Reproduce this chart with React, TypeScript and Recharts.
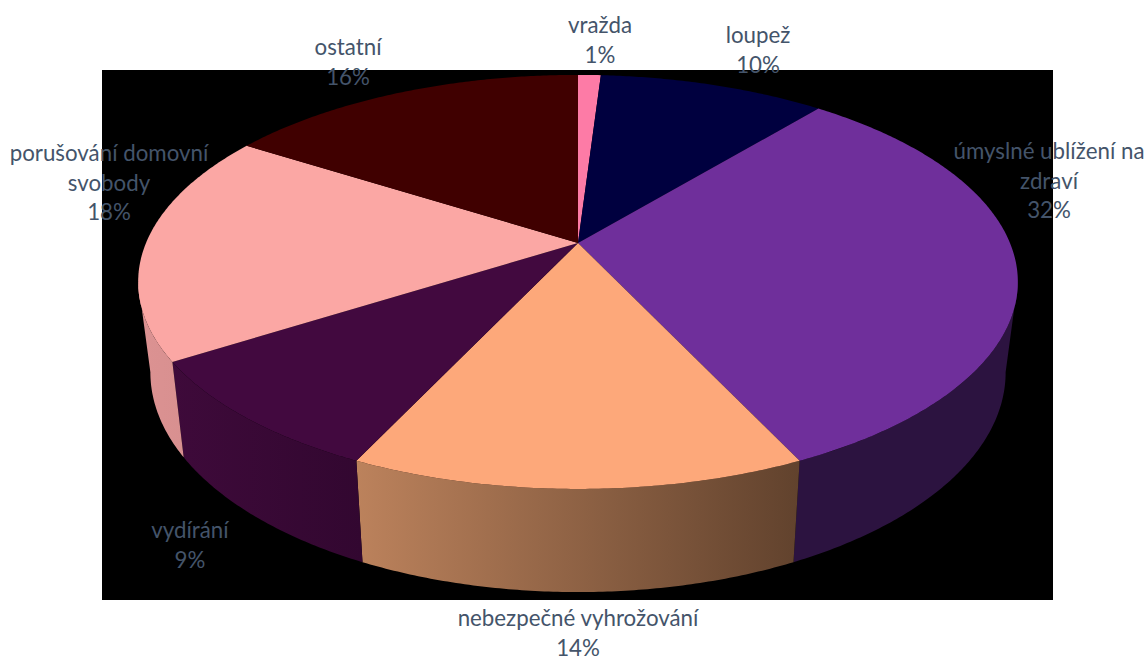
import React from "react";
import { PieChart, Pie } from "recharts";

const CATEGORIES = ["vražda", "loupež", "úmyslné ublížení na zdraví", "nebezpečné vyhrožování", "vydírání", "porušování domovní svobody", "ostatní"];
const VALUES = [1, 10, 32, 14, 9, 18, 16];
const COLORS = ["#FD7BA6", "#00003F", "#6F2F9B", "#FDA87A", "#42093F", "#FBA7A4", "#400000"];
const WALL_LEFT = ["#CC6286", "#000032", "#2C1340", "#BC825C", "#3E0A3A", "#DC9292", "#330000"];
const WALL_RIGHT = ["#CC6286", "#000032", "#2C1340", "#61422D", "#320730", "#D89090", "#330000"];
const LABEL_WRAP = [["vražda"], ["loupež"], ["úmyslné ublížení na", "zdraví"], ["nebezpečné vyhrožování"], ["vydírání"], ["porušování domovní", "svobody"], ["ostatní"]];
const LABEL_CENTER: [number, number][] = [[600, 25.5], [758, 35.5], [1049, 151.5], [578, 618.5], [190, 530.5], [109, 153.5], [348, 47.5]];

const data = CATEGORIES.map((name, i) => ({ name, value: VALUES[i], fill: COLORS[i] }));

// perspective projection of the disc, as ratios of the outer radius
const TILT = 0.188;
const TOP_Y = 199.7 / 432;
const LOW_X = 420 / 432;
const LOW_Y = 212 / 432;
const LOW_DROP = 88 / 432;
const SILHOUETTE = 100.8;

function project(cx: number, cy: number, r: number, a: number, low: boolean): [number, number] {
  const rad = (a * Math.PI) / 180;
  const s = Math.sin(rad);
  const co = Math.cos(rad);
  const d = 1 + TILT * co;
  if (low) return [cx + (r * LOW_X * s) / d, cy + r * LOW_DROP - (r * LOW_Y * co) / d];
  return [cx + (r * s) / d, cy - (r * TOP_Y * co) / d];
}

function samples(a0: number, a1: number): number[] {
  const n = Math.max(2, Math.ceil(Math.abs(a1 - a0) * 2));
  const out: number[] = [];
  for (let i = 0; i <= n; i++) out.push(a0 + ((a1 - a0) * i) / n);
  return out;
}

const toPath = (pts: [number, number][]) => "M" + pts.map((p) => `${p[0].toFixed(2)} ${p[1].toFixed(2)}`).join("L") + "Z";

function Slice(props: any) {
  const { cx, cy, outerRadius: r, startAngle, endAngle, fill, index } = props;
  const a0 = 90 - startAngle;
  const a1 = 90 - endAngle;
  const top = toPath([[cx, cy], ...samples(a0, a1).map((a) => project(cx, cy, r, a, false))]);
  const w0 = Math.max(a0, SILHOUETTE);
  const w1 = Math.min(a1, 360 - SILHOUETTE);
  let wall: React.ReactNode = null;
  if (w1 > w0) {
    const arc = samples(w0, w1);
    const upper = arc.map((a) => project(cx, cy, r, a, false));
    const lower = arc.slice().reverse().map((a) => project(cx, cy, r, a, true));
    const all = [...upper, ...lower];
    const xs = all.map((p) => p[0]);
    const id = `wall-${index}`;
    wall = (
      <g>
        <defs>
          <linearGradient id={id} gradientUnits="userSpaceOnUse" x1={Math.min(...xs)} x2={Math.max(...xs)} y1={0} y2={0}>
            <stop offset="0" stopColor={WALL_LEFT[index]} />
            <stop offset="1" stopColor={WALL_RIGHT[index]} />
          </linearGradient>
        </defs>
        <path d={toPath(all)} fill={`url(#${id})`} />
      </g>
    );
  }
  return (
    <g>
      {wall}
      <path d={top} fill={fill} />
    </g>
  );
}

function SliceLabel(props: any) {
  const { index, percent } = props;
  const [x, y] = LABEL_CENTER[index];
  const lines = [...LABEL_WRAP[index], `${Math.round(percent * 100)}%`];
  return (
    <text x={x} y={y} textAnchor="middle" fill="#44546A" fontFamily="Lato, sans-serif" fontSize={22.3}>
      {lines.map((t, i) => (
        <tspan key={i} x={x} y={y + i * 29.7} dy="0.33em">{t}</tspan>
      ))}
    </text>
  );
}

export default function App() {
  return (
    <div style={{ position: "absolute", left: 0, top: 0, width: 1147, height: 657, overflow: "hidden", background: "#fff" }}>
      <div style={{ position: "absolute", left: 102, top: 70, width: 951, height: 530, background: "#000" }} />
      <div style={{ position: "absolute", left: 0, top: 0 }}>
        <PieChart width={1147} height={657} margin={{ top: 0, right: 0, bottom: 0, left: 0 }}>
          <Pie
            data={data}
            dataKey="value"
            nameKey="name"
            cx={578}
            cy={243}
            innerRadius={0}
            outerRadius={432}
            startAngle={90}
            endAngle={-270}
            stroke="none"
            isAnimationActive={false}
            shape={Slice}
            label={SliceLabel}
            labelLine={false}
          />
        </PieChart>
      </div>
    </div>
  );
}
